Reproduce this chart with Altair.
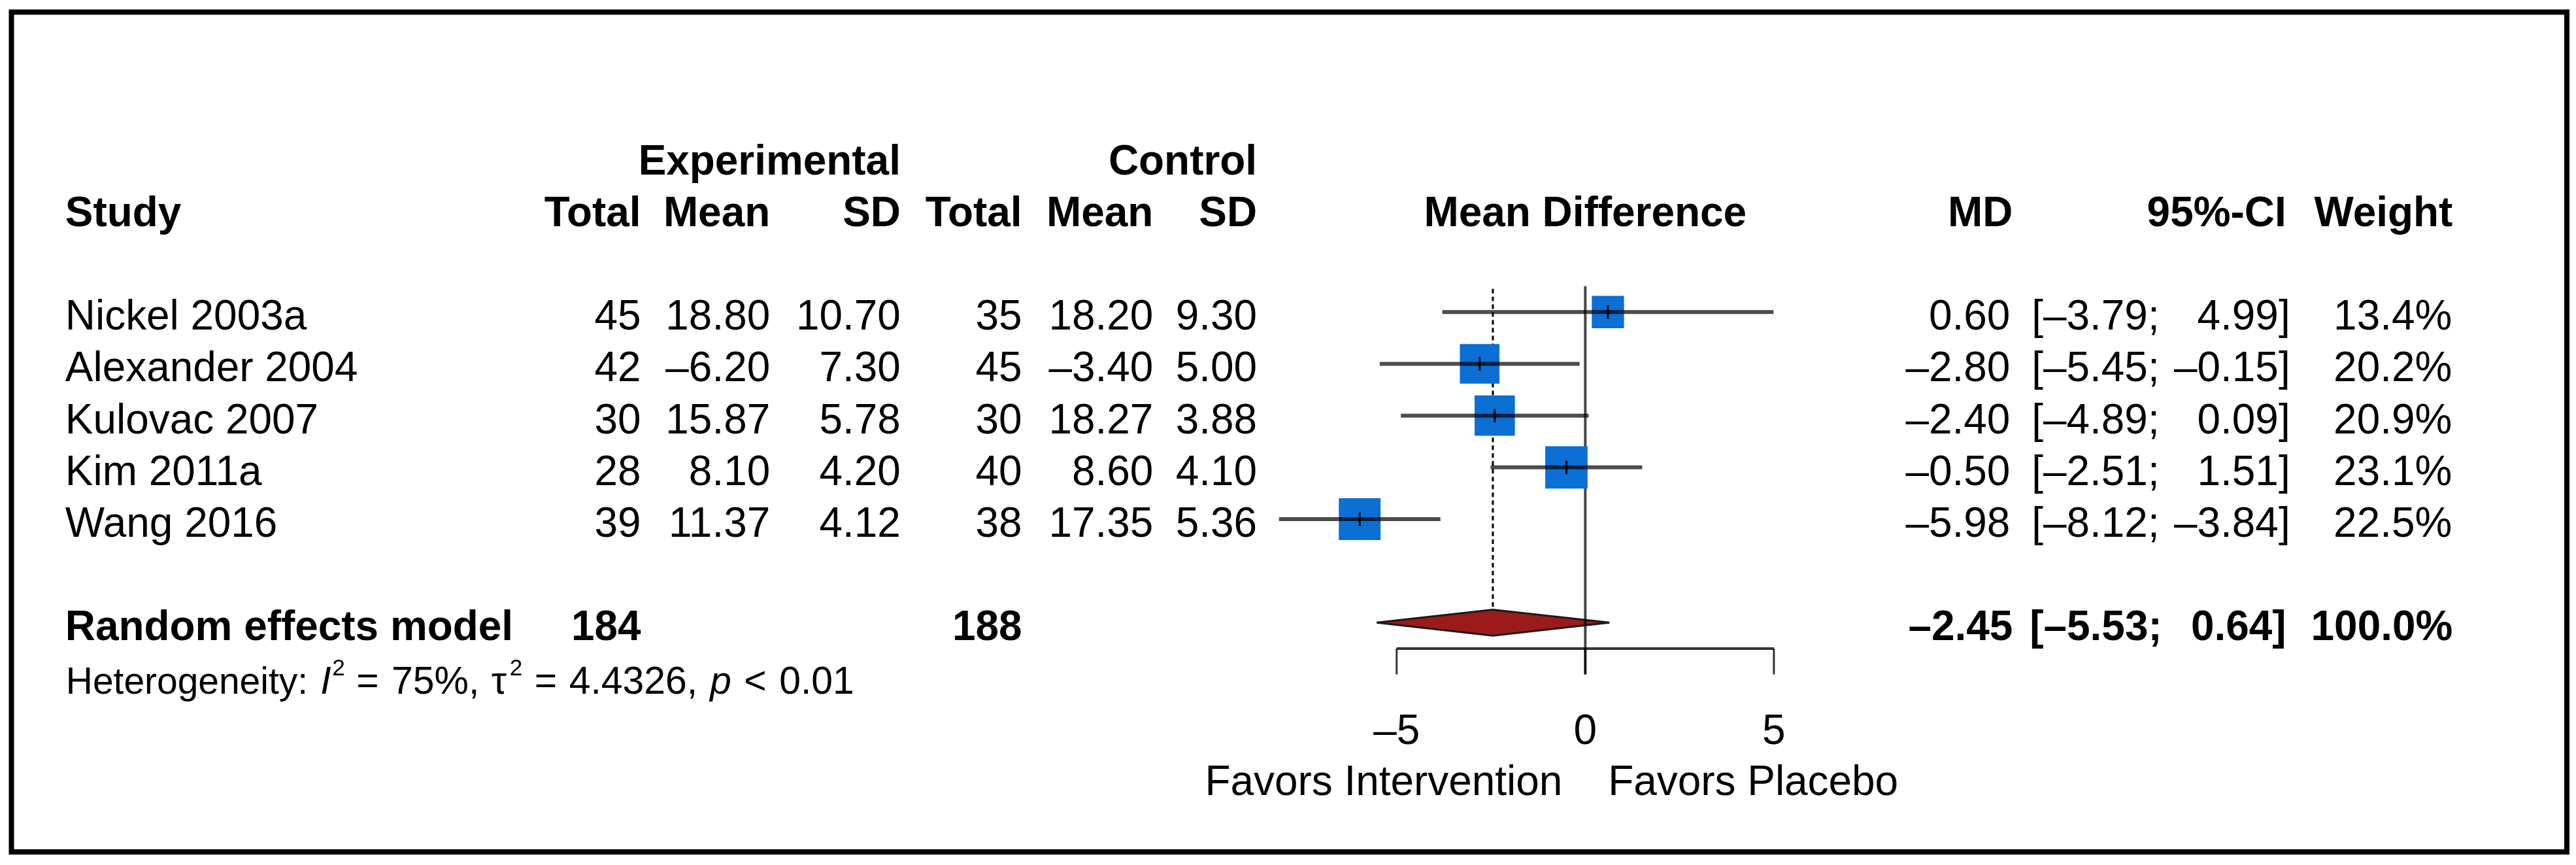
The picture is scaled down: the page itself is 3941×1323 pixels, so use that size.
import altair as alt
import pandas as pd

# ---------------- data ----------------
studies = ["Nickel 2003a", "Alexander 2004", "Kulovac 2007", "Kim 2011a", "Wang 2016"]
exp_total = [45, 42, 30, 28, 39]
exp_mean = [18.80, -6.20, 15.87, 8.10, 11.37]
exp_sd = [10.70, 7.30, 5.78, 4.20, 4.12]
ctrl_total = [35, 45, 30, 40, 38]
ctrl_mean = [18.20, -3.40, 18.27, 8.60, 17.35]
ctrl_sd = [9.30, 5.00, 3.88, 4.10, 5.36]
md = [0.60, -2.80, -2.40, -0.50, -5.98]
ci_lo = [-3.79, -5.45, -4.89, -2.51, -8.12]
ci_hi = [4.99, -0.15, 0.09, 1.51, -3.84]
weight = [13.4, 20.2, 20.9, 23.1, 22.5]

pooled_label = "Random effects model"
pooled_exp_total = 184
pooled_ctrl_total = 188
pooled_md = -2.45
pooled_lo = -5.53
pooled_hi = 0.64
pooled_weight = 100.0

het_i2 = "75%,"
het_tau2 = "4.4326,"
het_p = "0.01"

axis_ticks = [-5, 0, 5]
label_left = "Favors Intervention"
label_right = "Favors Placebo"

# ---------------- layout / style ----------------
FONT = "Liberation Sans"
BLUE = "#0b6fd3"
DRED = "#9b1b1b"

OX, OY = 17.5, 17.5          # page position of the plot origin
W, H = 3915.5, 1286.5        # plot area (framed)
X0, PXU = 2429.0, 57.8       # page x of MD = 0, pixels per MD unit
R0, RH = 477.0, 79.3         # page y of first study row, row height

xsc = alt.Scale(domain=[(OX - X0) / PXU, (OX + W - X0) / PXU], nice=False, zero=False)
ysc = alt.Scale(domain=[(OY - R0) / RH, (OY + H - R0) / RH], reverse=True, nice=False, zero=False)
pxs = alt.Scale(domain=[OX, OX + W], range=[0, W], nice=False, zero=False)

POOL_ROW = 6
HALF_DIAMOND = 0.25


def fmt(v):
    return f"{v:.2f}".replace("-", "\u2013")


df = pd.DataFrame({
    "row": list(range(len(studies))),
    "study": studies,
    "md": md, "lo": ci_lo, "hi": ci_hi, "w": weight,
})

# ---------------- graphical layers ----------------
Y = lambda f: alt.Y(f, scale=ysc, axis=None)

dia_df = pd.DataFrame({
    "x": [pooled_lo, pooled_md, pooled_hi],
    "y": [POOL_ROW, POOL_ROW - HALF_DIAMOND, POOL_ROW],
    "y2": [POOL_ROW, POOL_ROW + HALF_DIAMOND, POOL_ROW],
})
diamond = alt.Chart(dia_df).mark_area(
    orient="vertical", color=DRED, stroke="#1a1a1a", strokeWidth=3, opacity=1
).encode(x=alt.X("x:Q", scale=xsc, axis=None), y=Y("y:Q"), y2="y2:Q")

zero_df = pd.DataFrame({"x": [0], "y": [-0.5], "y2": [7]})
zero_line = alt.Chart(zero_df).mark_rule(color="black", strokeOpacity=0.72, strokeWidth=4).encode(
    x=alt.X("x:Q", scale=xsc, axis=None), y=Y("y:Q"), y2="y2:Q")

pool_df = pd.DataFrame({"x": [pooled_md], "y": [-0.45], "y2": [POOL_ROW - HALF_DIAMOND]})
pool_line = alt.Chart(pool_df).mark_rule(color="black", strokeWidth=3, strokeDash=[7, 5]).encode(
    x=alt.X("x:Q", scale=xsc, axis=None), y=Y("y:Q"), y2="y2:Q")

squares = alt.Chart(df).mark_square(color=BLUE, opacity=1).encode(
    x=alt.X("md:Q", scale=xsc, axis=None), y=Y("row:Q"),
    size=alt.Size("w:Q", scale=alt.Scale(type="linear", domain=[0, 100], range=[0, 18200], zero=True), legend=None))

ci_lines = alt.Chart(df).mark_rule(color="black", strokeOpacity=0.7, strokeWidth=6).encode(
    x=alt.X("lo:Q", scale=xsc, axis=None), x2="hi:Q", y=Y("row:Q"))

est_ticks = alt.Chart(df).transform_calculate(
    ya="datum.row - 0.13", yb="datum.row + 0.13"
).mark_rule(color="black", strokeWidth=3).encode(
    x=alt.X("md:Q", scale=xsc, axis=None), y=Y("ya:Q"), y2="yb:Q")

ax_df = pd.DataFrame({"x": [min(axis_ticks)], "x2": [max(axis_ticks)], "y": [POOL_ROW + 0.5]})
axis_line = alt.Chart(ax_df).mark_rule(color="black", strokeOpacity=0.8, strokeWidth=4).encode(
    x=alt.X("x:Q", scale=xsc, axis=None), x2="x2:Q", y=Y("y:Q"))

tick_df = pd.DataFrame({"x": axis_ticks, "y": [POOL_ROW + 0.5] * len(axis_ticks),
                        "y2": [POOL_ROW + 1] * len(axis_ticks),
                        "lab": [str(t).replace("-", "\u2013") for t in axis_ticks],
                        "ly": [POOL_ROW + 2] * len(axis_ticks)})
axis_tick_marks = alt.Chart(tick_df).mark_rule(color="black", strokeOpacity=0.8, strokeWidth=3).encode(
    x=alt.X("x:Q", scale=xsc, axis=None), y=Y("y:Q"), y2="y2:Q")
tick_labels = alt.Chart(tick_df).mark_text(
    font=FONT, fontSize=64, align="center", baseline="alphabetic", dy=27, color="black"
).encode(x=alt.X("x:Q", scale=xsc, axis=None), y=Y("ly:Q"), text="lab:N")

# ---------------- text cells ----------------
cells = []


def add(label, row, px, align, weight="normal", size=64, dy=27, style="normal"):
    cells.append(dict(label=label, row=row, px=px, align=align, weight=weight,
                      size=size, dy=dy, style=style))


# headers
add("Experimental", -3, 1380, "right", "bold")
add("Control", -3, 1926, "right", "bold")
add("Study", -2, 100, "left", "bold")
for t, px in [("Total", 982), ("Mean", 1180), ("SD", 1380), ("Total", 1566), ("Mean", 1767), ("SD", 1926)]:
    add(t, -2, px, "right", "bold")
add("Mean Difference", -2, X0, "center", "bold")
add("MD", -2, 3084, "right", "bold")
add("95%-CI", -2, 3503, "right", "bold")
add("Weight", -2, 3758, "right", "bold")

# study rows
for i in range(len(studies)):
    add(studies[i], i, 100, "left")
    add(str(exp_total[i]), i, 982, "right")
    add(fmt(exp_mean[i]), i, 1180, "right")
    add(fmt(exp_sd[i]), i, 1380, "right")
    add(str(ctrl_total[i]), i, 1566, "right")
    add(fmt(ctrl_mean[i]), i, 1767, "right")
    add(fmt(ctrl_sd[i]), i, 1926, "right")
    add(fmt(md[i]), i, 3080, "right")
    add("[" + fmt(ci_lo[i]) + ";", i, 3113, "left")
    add(fmt(ci_hi[i]) + "]", i, 3509, "right")
    add(f"{weight[i]:.1f}%", i, 3757, "right")

# pooled row
add(pooled_label, POOL_ROW, 100, "left", "bold")
add(str(pooled_exp_total), POOL_ROW, 982, "right", "bold")
add(str(pooled_ctrl_total), POOL_ROW, 1566, "right", "bold")
add(fmt(pooled_md), POOL_ROW, 3084, "right", "bold")
add("[" + fmt(pooled_lo) + ";", POOL_ROW, 3110, "left", "bold")
add(fmt(pooled_hi) + "]", POOL_ROW, 3503, "right", "bold")
add(f"{pooled_weight:.1f}%", POOL_ROW, 3758, "right", "bold")

# heterogeneity line (pieces to get italics / superscripts)
HR = POOL_ROW + 1
HS = 59
SUP = 35
add("Heterogeneity:", HR, 101, "left", size=57, dy=30)
add("I", HR, 491, "left", size=HS, dy=30, style="italic")
add("2", HR, 509, "left", size=SUP, dy=1)
add("=", HR, 546, "left", size=HS, dy=30)
add(het_i2, HR, 600, "left", size=HS, dy=30)
add("\u03c4", HR, 753, "left", size=HS, dy=30)
add("2", HR, 781, "left", size=SUP, dy=1)
add("=", HR, 819, "left", size=HS, dy=30)
add(het_tau2, HR, 872, "left", size=HS, dy=30)
add("p", HR, 1088, "left", size=HS, dy=30, style="italic")
add("<", HR, 1140, "left", size=HS, dy=30)
add(het_p, HR, 1194, "left", size=HS, dy=30)

# favours labels
add(label_left, POOL_ROW + 3, 2394, "right", dy=26)
add(label_right, POOL_ROW + 3, 2464, "left", dy=26)

cells_df = pd.DataFrame(cells)

text_layers = []
for (al, wt, sz, dy, st), sub in cells_df.groupby(["align", "weight", "size", "dy", "style"]):
    text_layers.append(
        alt.Chart(sub[["label", "row", "px"]].reset_index(drop=True)).mark_text(
            font=FONT, fontSize=float(sz), fontWeight=wt, fontStyle=st, align=al,
            baseline="alphabetic", dy=float(dy), color="black"
        ).encode(
            x=alt.X("px:Q", scale=pxs, axis=None),
            y=Y("row:Q"),
            text="label:N",
        )
    )

layers = [diamond, zero_line, pool_line, squares, ci_lines, est_ticks,
          axis_line, axis_tick_marks, tick_labels] + text_layers

chart = alt.layer(*layers).resolve_scale(x="independent").properties(
    width=W, height=H,
    padding={"left": OX - 8, "top": OY - 8, "right": 6, "bottom": 6},
    autosize=alt.AutoSizeParams(type="none"),
    background="white",
).configure_view(stroke="black", strokeWidth=8)

chart.save("out.html", embed_options={"renderer": "svg", "actions": False})
